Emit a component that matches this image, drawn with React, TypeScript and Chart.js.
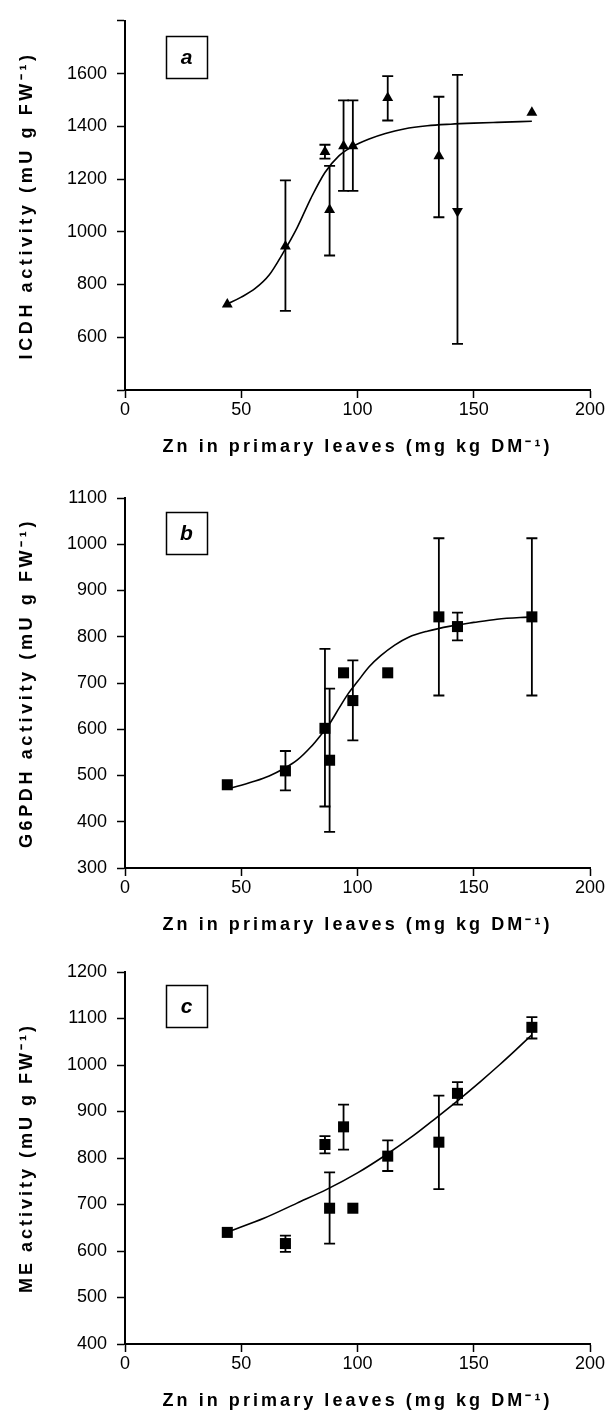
import React, { useEffect, useRef } from 'react';
import { Chart, registerables } from 'chart.js';

Chart.register(...registerables);

// ---------- data ----------
const znLeaves = [44, 69, 86, 88, 94, 98, 113, 135, 143, 175];
const xTicks = [0, 50, 100, 150, 200];

// panel a: ICDH
const icdhValues = [725, 945, 1303, 1083, 1325, 1325, 1508, 1287, 1078, 1452];
const icdhLow = [null, 700, 1277, 910, 1155, 1155, 1422, 1055, 575, null];
const icdhHigh = [null, 1195, 1330, 1250, 1498, 1498, 1590, 1512, 1595, null];
const icdhInverted = [false, false, false, false, false, false, false, false, true, false];
const icdhFitX = [44, 50, 56, 62, 68, 74, 80, 86, 92, 98, 105, 112, 120, 130, 140, 150, 160, 175];
const icdhFitY = [726, 752, 785, 836, 920, 1015, 1128, 1225, 1288, 1324, 1352, 1373, 1390, 1402, 1408, 1412, 1415, 1419];
const icdhTicks = [400, 600, 800, 1000, 1200, 1400, 1600, 1800];
const icdhTickLabels = ['', '600', '800', '1000', '1200', '1400', '1600', ''];

// panel b: G6PDH
const g6pdhValues = [480, 510, 602, 533, 722, 662, 722, 843, 822, 843];
const g6pdhLow = [null, 468, 433, 378, null, 576, null, 673, 792, 673];
const g6pdhHigh = [null, 553, 774, 688, null, 749, null, 1013, 852, 1013];
const g6pdhFitX = [44, 50, 56, 62, 68, 74, 80, 84, 88, 92, 96, 100, 105, 110, 116, 122, 130, 140, 150, 160, 175];
const g6pdhFitY = [471, 479, 488, 499, 514, 533, 562, 586, 612, 645, 677, 703, 735, 759, 782, 799, 812, 823, 831, 838, 843];
const g6pdhTicks = [300, 400, 500, 600, 700, 800, 900, 1000, 1100];
const g6pdhTickLabels = ['300', '400', '500', '600', '700', '800', '900', '1000', '1100'];

// panel c: ME
const meValues = [640, 616, 829, 692, 867, 692, 804, 834, 939, 1081];
const meLow = [null, 598, 810, 616, 818, null, 772, 733, 915, 1057];
const meHigh = [null, 633, 847, 769, 915, null, 838, 934, 963, 1103];
const meFitX = [44, 60, 74, 87, 100, 112, 124, 134, 143, 153, 161, 168, 175];
const meFitY = [641, 671, 703, 733, 768, 806, 848, 887, 923, 965, 1000, 1032, 1065];
const meTicks = [400, 500, 600, 700, 800, 900, 1000, 1100, 1200];
const meTickLabels = ['400', '500', '600', '700', '800', '900', '1000', '1100', '1200'];

const xTitle = 'Zn in primary leaves (mg kg DM\u207B\u00B9)';

// ---------- plugins ----------
const errorBarPlugin = {
  id: 'errorBars',
  beforeDatasetsDraw(chart: any, _args: any, opts: any) {
    const { ctx } = chart;
    const xs = chart.scales.x;
    const ys = chart.scales.y;
    ctx.save();
    ctx.strokeStyle = '#000';
    ctx.lineWidth = 1.8;
    const cap = 5.5;
    opts.xs.forEach((xv: number, i: number) => {
      const lo = opts.low[i];
      const hi = opts.high[i];
      if (lo == null || hi == null) return;
      const px = xs.getPixelForValue(xv);
      const pl = ys.getPixelForValue(lo);
      const ph = ys.getPixelForValue(hi);
      ctx.beginPath();
      ctx.moveTo(px, pl);
      ctx.lineTo(px, ph);
      ctx.moveTo(px - cap, pl);
      ctx.lineTo(px + cap, pl);
      ctx.moveTo(px - cap, ph);
      ctx.lineTo(px + cap, ph);
      ctx.stroke();
    });
    ctx.restore();
  },
};

function spacedText(ctx: any, text: string, cx: number, cy: number, width: number) {
  ctx.letterSpacing = '0px';
  const w = ctx.measureText(text).width;
  const n = Array.from(text).length;
  const sp = Math.max(0, (width - w) / n);
  ctx.letterSpacing = sp + 'px';
  ctx.textAlign = 'left';
  ctx.textBaseline = 'middle';
  ctx.fillText(text, cx - width / 2, cy);
  ctx.letterSpacing = '0px';
}

const textPlugin = {
  id: 'panelText',
  afterDraw(chart: any, _args: any, opts: any) {
    const { ctx, chartArea } = chart;
    ctx.save();
    ctx.fillStyle = '#000';
    ctx.font = 'bold 18px "Liberation Sans"';
    const cx = (chartArea.left + chartArea.right) / 2;
    spacedText(ctx, opts.xTitle, cx, chartArea.bottom + opts.xTitleOffset, opts.xTitleWidth);
    ctx.save();
    ctx.translate(opts.yTitleX, (chartArea.top + chartArea.bottom) / 2 + opts.yTitleShift);
    ctx.rotate(-Math.PI / 2);
    spacedText(ctx, opts.yTitle, 0, 0, opts.yTitleWidth);
    ctx.restore();
    // label box
    const b = opts.box;
    ctx.strokeStyle = '#000';
    ctx.lineWidth = 1.5;
    ctx.strokeRect(b.x + 0.5, b.y + 0.5, b.w, b.h);
    ctx.font = 'italic bold 21px "Liberation Sans"';
    ctx.textAlign = 'center';
    ctx.textBaseline = 'middle';
    ctx.fillText(opts.label, b.x + b.w / 2, b.y + b.h / 2 + 1);
    ctx.restore();
  },
};

// ---------- panels ----------
type PanelCfg = {
  top: number;
  height: number;
  areaTop: number;
  areaBottom: number;
  yTicks: number[];
  yTickLabels: string[];
  values: number[];
  low: (number | null)[];
  high: (number | null)[];
  fitX: number[];
  fitY: number[];
  pointStyle: string;
  radius: number;
  rotations: number[];
  yTitle: string;
  yTitleWidth: number;
  label: string;
  boxY: number;
};

const panels: PanelCfg[] = [
  {
    top: 0, height: 470, areaTop: 19, areaBottom: 390,
    yTicks: icdhTicks, yTickLabels: icdhTickLabels,
    values: icdhValues, low: icdhLow, high: icdhHigh,
    fitX: icdhFitX, fitY: icdhFitY,
    pointStyle: 'triangle', radius: 6.3,
    rotations: icdhInverted.map((d) => (d ? 180 : 0)),
    yTitle: 'ICDH activity (mU g FW\u207B\u00B9)', yTitleWidth: 308,
    label: 'a', boxY: 36,
  },
  {
    top: 470, height: 470, areaTop: 28, areaBottom: 398,
    yTicks: g6pdhTicks, yTickLabels: g6pdhTickLabels,
    values: g6pdhValues, low: g6pdhLow, high: g6pdhHigh,
    fitX: g6pdhFitX, fitY: g6pdhFitY,
    pointStyle: 'rect', radius: 7.8,
    rotations: g6pdhValues.map(() => 0),
    yTitle: 'G6PDH activity (mU g FW\u207B\u00B9)', yTitleWidth: 330,
    label: 'b', boxY: 42,
  },
  {
    top: 940, height: 485, areaTop: 32, areaBottom: 404,
    yTicks: meTicks, yTickLabels: meTickLabels,
    values: meValues, low: meLow, high: meHigh,
    fitX: meFitX, fitY: meFitY,
    pointStyle: 'rect', radius: 7.8,
    rotations: meValues.map(() => 0),
    yTitle: 'ME activity (mU g FW\u207B\u00B9)', yTitleWidth: 270,
    label: 'c', boxY: 45,
  },
];

const AXIS_LEFT = 125;
const AXIS_RIGHT = 590;
const W = 607;

function Panel({ cfg }: { cfg: PanelCfg }) {
  const ref = useRef<HTMLCanvasElement>(null);
  useEffect(() => {
    const canvas = ref.current!;
    const tickFont = { family: '"Liberation Sans"', size: 18 };
    const grid = {
      display: true,
      drawOnChartArea: false,
      drawTicks: true,
      tickLength: 8,
      tickWidth: 1.5,
      tickColor: '#000',
      color: '#000',
    };
    const border = { display: true, color: '#000', width: 2 };
    const chart = new Chart(canvas, {
      type: 'scatter',
      data: {
        datasets: [
          {
            data: znLeaves.map((x, i) => ({ x, y: cfg.values[i] })),
            pointStyle: cfg.pointStyle as any,
            pointRadius: cfg.radius,
            pointRotation: cfg.rotations as any,
            backgroundColor: '#000',
            borderColor: '#000',
            borderWidth: 0,
            showLine: false,
          },
          {
            data: cfg.fitX.map((x, i) => ({ x, y: cfg.fitY[i] })),
            showLine: true,
            borderColor: '#000',
            borderWidth: 1.6,
            pointRadius: 0,
            cubicInterpolationMode: 'monotone',
            fill: false,
          } as any,
        ],
      },
      options: {
        responsive: false,
        animation: false,
        events: [],
        layout: { padding: { left: 0, right: W - AXIS_RIGHT, top: cfg.areaTop, bottom: 0 } },
        plugins: {
          legend: { display: false },
          tooltip: { enabled: false },
          errorBars: { xs: znLeaves, low: cfg.low, high: cfg.high },
          panelText: {
            xTitle,
            xTitleWidth: 390,
            xTitleOffset: 57,
            yTitle: cfg.yTitle,
            yTitleWidth: cfg.yTitleWidth,
            yTitleX: 27,
            yTitleShift: 0,
            label: cfg.label,
            box: { x: 166, y: cfg.boxY, w: 41, h: 42 },
          },
        } as any,
        scales: {
          x: {
            type: 'linear',
            position: 'bottom',
            min: 0,
            max: 200,
            afterBuildTicks: (s: any) => {
              s.ticks = xTicks.map((v) => ({ value: v }));
            },
            afterFit: (s: any) => {
              s.height = cfg.height - cfg.areaBottom;
            },
            ticks: { color: '#000', font: tickFont, padding: 1, maxRotation: 0, autoSkip: false },
            grid,
            border,
          },
          y: {
            type: 'linear',
            min: cfg.yTicks[0],
            max: cfg.yTicks[cfg.yTicks.length - 1],
            afterBuildTicks: (s: any) => {
              s.ticks = cfg.yTicks.map((v) => ({ value: v }));
            },
            afterFit: (s: any) => {
              s.width = AXIS_LEFT;
            },
            ticks: {
              color: '#000',
              font: tickFont,
              padding: 10,
              autoSkip: false,
              callback: (_v: any, i: number) => cfg.yTickLabels[i],
            },
            grid,
            border,
          },
        },
      } as any,
      plugins: [errorBarPlugin, textPlugin],
    });
    return () => chart.destroy();
  }, [cfg]);
  return (
    <canvas
      ref={ref}
      width={W}
      height={cfg.height}
      style={{ position: 'absolute', left: 0, top: cfg.top, width: W, height: cfg.height }}
    />
  );
}

export default function App() {
  return (
    <div style={{ position: 'absolute', left: 0, top: 0, width: W, height: 1425, background: '#fff' }}>
      {panels.map((p) => (
        <Panel key={p.label} cfg={p} />
      ))}
    </div>
  );
}
